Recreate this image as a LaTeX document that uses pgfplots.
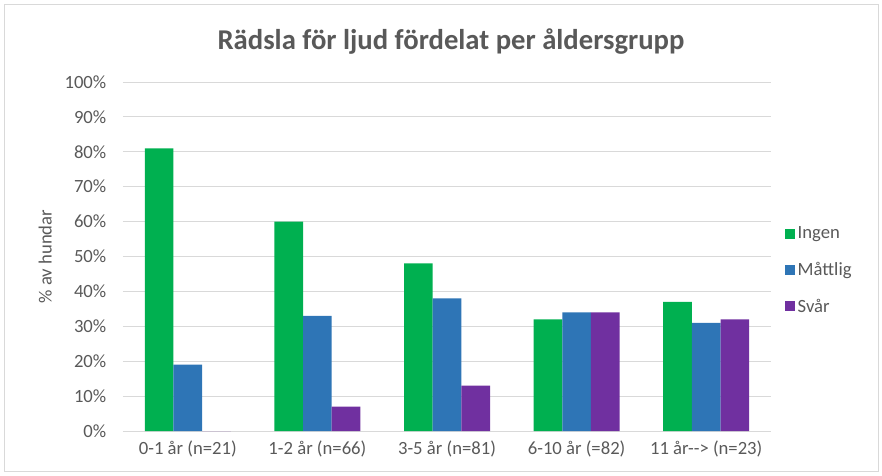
\documentclass[border=0pt]{standalone}
\usepackage{pgfplots}
\pgfplotsset{compat=1.18}
\usepackage{fontspec}
\setmainfont{Carlito}
\definecolor{cIngen}{HTML}{00B050}
\definecolor{cMatt}{HTML}{2E75B6}
\definecolor{cSvar}{HTML}{7030A0}
\definecolor{txt}{HTML}{595959}
\definecolor{gridc}{HTML}{D9D9D9}
\begin{document}
\begin{tikzpicture}
\useasboundingbox (0pt,0pt) rectangle (661.5pt,-356.25pt);
\draw[gridc, line width=0.75pt] (3pt,-3pt) rectangle (658.5pt,-353.25pt);
\node[text=txt, font=\fontsize{21.5}{24}\selectfont\bfseries] at (338.25pt,-31pt) {Rädsla för ljud fördelat per åldersgrupp};
\begin{axis}[
  at={(92.25pt,-323.25pt)}, anchor=south west,
  scale only axis, width=486pt, height=261.75pt,
  ybar=0pt, bar width=21.5pt,
  xmin=-0.5, xmax=4.5, ymin=0, ymax=100,
  xtick={0,1,2,3,4},
  xticklabels={0-1 år (n=21),1-2 år (n=66),3-5 år (n=81),6-10 år (=82),11 år{-}{-}> (n=23)},
  ytick={0,10,...,100},
  yticklabel={\pgfmathprintnumber{\tick}\%},
  /pgf/number format/assume math mode=true,
  xmajorgrids=false, ymajorgrids=true,
  y grid style={color=gridc, line width=0.75pt},
  axis line style={draw=none},
  major tick length=0pt,
  tick label style={text=txt, font=\fontsize{14}{16}\selectfont},
  yticklabel style={xshift=-9pt},
  xticklabel style={yshift=-4pt},
  ylabel={\% av hundar},
  ylabel style={text=txt, font=\fontsize{14}{16}\selectfont, at={(axis description cs:-0.12,0.5)}, anchor=center},
  legend style={draw=none, fill=none, at={(1.015,0.46)}, anchor=west,
    font=\fontsize{14}{16}\selectfont, text=txt, row sep=12pt,
    legend cell align=left},
  legend image code/.code={\fill[#1] (0pt,-3.75pt) rectangle (7.5pt,3.75pt);},
]
\addplot[fill=cIngen, draw=none] coordinates {(0,81) (1,60) (2,48) (3,32) (4,37)};
\addplot[fill=cMatt, draw=none] coordinates {(0,19) (1,33) (2,38) (3,34) (4,31)};
\addplot[fill=cSvar, draw=none] coordinates {(0,0) (1,7) (2,13) (3,34) (4,32)};
\legend{Ingen,Måttlig,Svår}
\end{axis}
\end{tikzpicture}
\end{document}
